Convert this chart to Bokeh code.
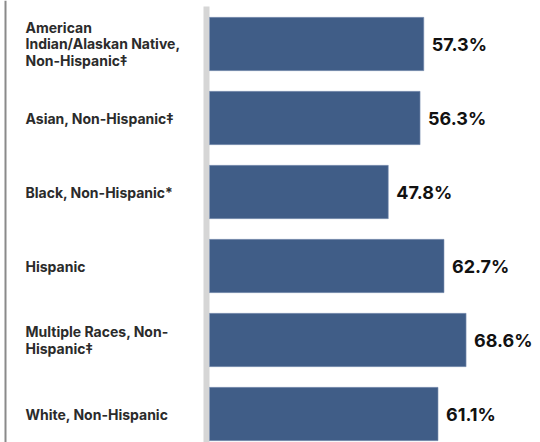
from bokeh.plotting import figure
from bokeh.models import Range1d, BoxAnnotation, ColumnDataSource
from bokeh.core.properties import value
from bokeh.embed import file_html
from bokeh.resources import INLINE

categories = [
    "American\nIndian/Alaskan Native,\nNon-Hispanic‡",
    "Asian, Non-Hispanic‡",
    "Black, Non-Hispanic*",
    "Hispanic",
    "Multiple Races, Non-\nHispanic‡",
    "White, Non-Hispanic",
]
values = [57.3, 56.3, 47.8, 62.7, 68.6, 61.1]
value_labels = [f"{v:.1f}%" for v in values]

W, H = 540, 442
scale = 3.74          # px per percentage point
zero_px = 209         # x of the bar baseline
row_px = 74           # px per category
first_center_px = 43.5

x_start = -zero_px / scale
x_end = (W - zero_px) / scale
y_top = -first_center_px / row_px
y_bottom = (H - first_center_px) / row_px

p = figure(width=W, height=H, output_backend="svg", toolbar_location=None,
           x_range=Range1d(x_start, x_end), y_range=Range1d(y_bottom, y_top),
           min_border=0, outline_line_color=None)
p.axis.visible = False
p.grid.visible = False
p.background_fill_color = "white"
p.border_fill_color = "white"

idx = list(range(len(categories)))
src = ColumnDataSource(dict(y=idx, v=values, cat=categories, lab=value_labels,
                            lx=[x_start + 25 / scale] * len(idx),
                            vx=[v + 8 / scale for v in values]))

# light grey baseline band
p.add_layout(BoxAnnotation(left=-6 / scale, right=0, top=y_top + 6 / row_px,
                           fill_color="#d6d6d6", fill_alpha=1, line_color=None,
                           level="underlay"))
# thin left rule
p.add_layout(BoxAnnotation(left=x_start + 4 / scale, right=x_start + 6 / scale,
                           fill_color="#8a8a8a", fill_alpha=1, line_color=None,
                           level="underlay"))

p.hbar(y="y", left=0, right="v", height=0.72, source=src,
       fill_color="#405d87", line_color="#7f94b3", line_width=0.6)

p.text(x="lx", y="y", text="cat", source=src, text_align="left",
       text_baseline="middle", text_font=value("Inter"),
       text_font_style="bold", text_font_size="14px", text_color="#2b2b2b",
       text_line_height=0.95)

p.text(x="vx", y="y", text="lab", source=src, text_align="left",
       text_baseline="middle", text_font=value("Inter"),
       text_font_style="bold", text_font_size="18px", text_color="#111111")

open("out.html", "w").write(file_html(p, INLINE))
